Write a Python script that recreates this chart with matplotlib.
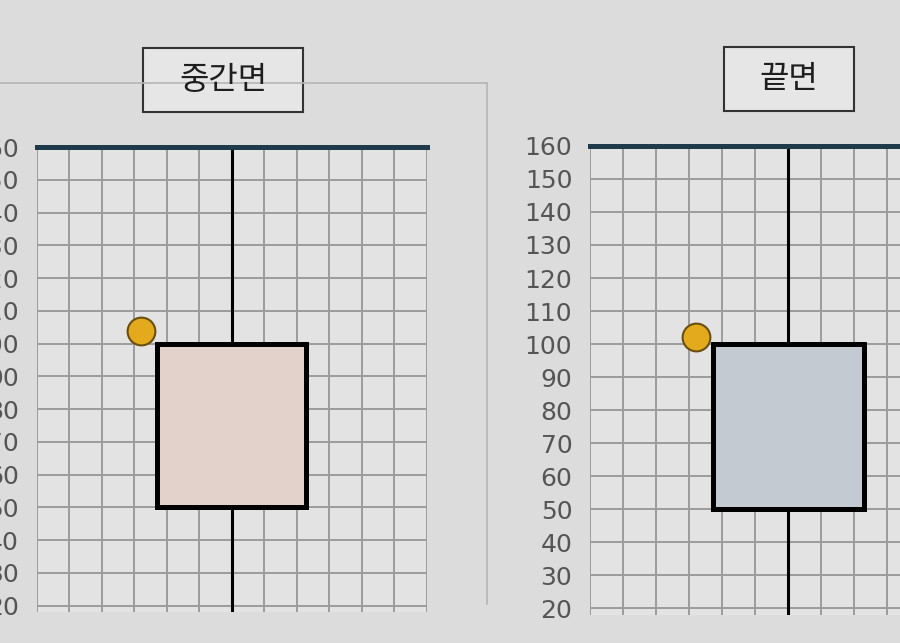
import numpy as np
import matplotlib.pyplot as plt
from matplotlib.patches import Rectangle
from matplotlib.lines import Line2D

plt.rcParams['font.family'] = ['Noto Sans CJK KR', 'DejaVu Sans']

# données des deux boîtes
panels = ["중간면", "끝면"]
q1 = [50, 50]
q3 = [100, 100]
whis_hi = [160, 160]
whis_lo = [10, 10]
points = [104, 102]
box_colors = ["#e3d2cb", "#c3cad2"]
yticks = list(range(20, 161, 10))

fig = plt.figure(figsize=(9, 6.43), dpi=100, facecolor="#dcdcdc")

# lignes de séparation de l'écran
fig.add_artist(Line2D([0, 0.541], [0.871, 0.871], color="#b5b5b5", lw=1.2))
fig.add_artist(Line2D([0.541, 0.541], [0.871, 0.06], color="#b5b5b5", lw=1.2))

ax_pos = [[0.041, 0.048, 0.433, 0.723], [0.656, 0.044, 0.44, 0.729]]
title_boxes = [[143, 48, 160, 64], [724, 47, 130, 64]]

for i, name in enumerate(panels):
    ax = fig.add_axes(ax_pos[i])
    ax.set_facecolor("#e3e3e3")
    stats = [dict(q1=q1[i], q3=q3[i], med=(q1[i] + q3[i]) / 2,
                  whislo=whis_lo[i], whishi=whis_hi[i], fliers=[])]
    ax.bxp(stats, positions=[6], widths=4.6, patch_artist=True, showcaps=False,
           boxprops=dict(facecolor=box_colors[i], edgecolor="black", linewidth=3.6),
           whiskerprops=dict(color="black", linewidth=2.2),
           medianprops=dict(linewidth=0), zorder=3)
    ax.plot([3.2], [points[i]], "o", ms=20, mfc="#e2aa1c", mec="#6a5010", mew=1.5,
            zorder=4, clip_on=False)
    ax.axhline(160, color="#1f3a48", lw=3.6, zorder=5, clip_on=False)

    ax.set_xlim(0, 12)
    ax.set_ylim(18, 160)
    ax.set_xticks(np.arange(0, 13, 1))
    ax.set_yticks(yticks)
    ax.set_yticklabels([str(t) for t in yticks], family="DejaVu Sans",
                       fontsize=18, color="#555555")
    ax.tick_params(axis="x", labelbottom=False, length=0)
    ax.tick_params(axis="y", length=0, pad=13)
    ax.grid(True, color="#9c9c9c", lw=1.4)
    ax.set_axisbelow(True)
    for s in ax.spines.values():
        s.set_visible(False)

    # titre encadré
    bx, by, bw, bh = title_boxes[i]
    fig.add_artist(Rectangle((bx / 900, 1 - (by + bh) / 643), bw / 900, bh / 643,
                             transform=fig.transFigure, facecolor="#e6e6e6",
                             edgecolor="#333333", lw=1.5))
    fig.text((bx + bw / 2) / 900, 1 - (by + bh / 2) / 643, name, fontsize=23,
             ha="center", va="center", color="#1e1e1e")

fig.savefig("out.png", dpi=100, facecolor=fig.get_facecolor())
